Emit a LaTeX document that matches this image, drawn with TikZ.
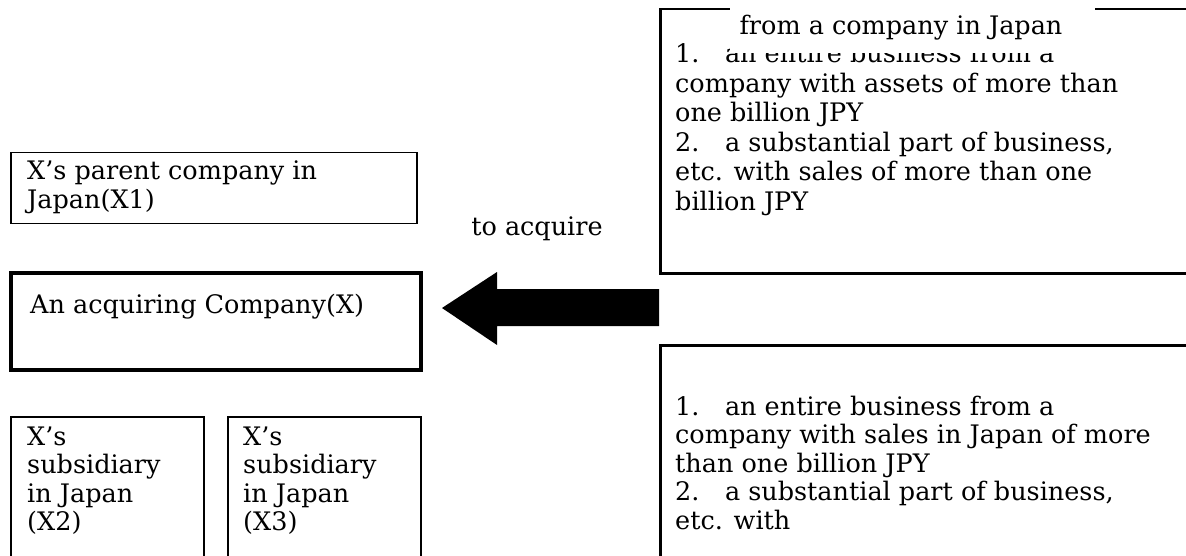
\documentclass[tikz,border=0pt]{standalone}
\usepackage{fontspec}
\setmainfont{DejaVu Serif}
\usetikzlibrary{positioning}

\tikzset{
	box/.style={draw, line width=1.5pt, anchor=north west, inner sep=0pt},
	rbox/.style={draw, line width=2.5pt, anchor=north west, inner sep=0pt},
	txt/.style={anchor=base west, align=left, inner sep=0pt, font=\fontsize{25.5}{28.5}\selectfont},
}

\begin{document}
\begin{tikzpicture}[x=1pt,y=-1pt]
	\useasboundingbox (0,0) rectangle (1186,556);
	\clip (0,0) rectangle (1186,556);

	% companies on the left
	\node[box, minimum width=406pt, minimum height=71pt] (x1) at (10,152) {};
	\node[box, line width=4pt, minimum width=410pt, minimum height=97pt] (x) at (9,271) {};
	\node[box, minimum width=193pt, minimum height=160pt] (x2) at (10,416) {};
	\node[box, minimum width=193pt, minimum height=160pt] (x3) at (227,416) {};

	% (base of a text = base of its last line)
	\node[txt] (x1text) at (27,208.5) {X’s parent company in\\Japan(X1)};
	\node[txt] (xtext) at (30,313) {An acquiring Company(X)};
	\node[txt] (x2text) at (27,530.5) {X’s\\subsidiary\\in Japan\\(X2)};
	\node[txt] (x3text) at (243,530.5) {X’s\\subsidiary\\in Japan\\(X3)};

	% businesses on the right
	\node[rbox, minimum width=560pt, minimum height=264pt] (assets) at (659,8) {};
	\node[rbox, minimum width=560pt, minimum height=240pt] (sales) at (659,344) {};

	\node[txt, font=\fontsize{25.5}{29.5}\selectfont] (assetstext) at (675,210.5) {1.\quad an entire business from a\\company with assets of more than\\one billion JPY\\2.\quad a substantial part of business,\\etc. with sales of more than one\\billion JPY};
	\node[fill=white, anchor=north west, inner sep=0pt, minimum width=365pt, minimum height=53pt] (titlebg) at (730,0) {};
	\node[txt, anchor=base] (title) at (901,35) {from a company in Japan};

	\node[txt] (salestext) at (675,529) {1.\quad an entire business from a\\company with sales in Japan of more\\than one billion JPY\\2.\quad a substantial part of business,\\etc. with};

	% the big arrow
	\fill (442,308) -- (497,272) -- (497,289) -- (659,289) -- (659,326) -- (497,326) -- (497,345) -- cycle;
	\node[txt, anchor=base] (acquire) at (537,236) {to acquire};
\end{tikzpicture}
\end{document}
